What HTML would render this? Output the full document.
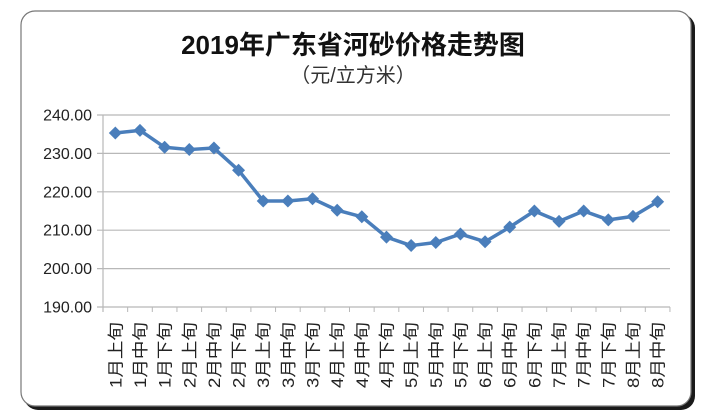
<!DOCTYPE html>
<html><head><meta charset="utf-8"><style>
html,body{margin:0;padding:0;background:#fff;}
svg{display:block;font-family:"Liberation Sans","Noto Sans CJK SC",sans-serif;}
</style></head><body>
<svg width="703" height="418" viewBox="0 0 703 418" xmlns="http://www.w3.org/2000/svg">
<rect x="24" y="14" width="671" height="396" rx="14" fill="#1a1a1a"/>
<rect x="21" y="11" width="670" height="395" rx="14" fill="#fff" stroke="#777" stroke-width="1.2"/>
<text x="353" y="54" text-anchor="middle" font-size="26" font-weight="bold" fill="#111">2019年广东省河砂价格走势图</text>
<text x="353" y="82" text-anchor="middle" font-size="20" fill="#333">（元/立方米）</text>
<g stroke="#b8b8b8" stroke-width="1.2">
<line x1="97" y1="115" x2="670" y2="115"/>
<line x1="97" y1="153.4" x2="670" y2="153.4"/>
<line x1="97" y1="191.8" x2="670" y2="191.8"/>
<line x1="97" y1="230.2" x2="670" y2="230.2"/>
<line x1="97" y1="268.6" x2="670" y2="268.6"/>
<line x1="97" y1="307" x2="670" y2="307"/>
<line x1="103" y1="115" x2="103" y2="312"/>
</g>
<g stroke="#b8b8b8" stroke-width="1" id="ticks"></g>
<g font-size="16" fill="#222" text-anchor="end">
<text x="92" y="120.5">240.00</text>
<text x="92" y="158.9">230.00</text>
<text x="92" y="197.3">220.00</text>
<text x="92" y="235.7">210.00</text>
<text x="92" y="274.1">200.00</text>
<text x="92" y="312.5">190.00</text>
</g>
<g id="labels" font-size="16.5" fill="#222"></g>
<polyline id="line" fill="none" stroke="#4a7ebb" stroke-width="3.5" stroke-linejoin="round"/>
<g id="marks" fill="#4a7ebb"></g>
<script>
var v=[235.3,236,231.6,231,231.4,225.6,217.6,217.6,218.2,215.2,213.5,208.2,206,206.8,209,207,210.8,215,212.3,215,212.7,213.6,217.4];
var lab=["1月上旬","1月中旬","1月下旬","2月上旬","2月中旬","2月下旬","3月上旬","3月中旬","3月下旬","4月上旬","4月中旬","4月下旬","5月上旬","5月中旬","5月下旬","6月上旬","6月中旬","6月下旬","7月上旬","7月中旬","7月下旬","8月上旬","8月中旬"];
var NS="http://www.w3.org/2000/svg",pts=[],w=24.65;
var T=document.getElementById("ticks"),L=document.getElementById("labels"),M=document.getElementById("marks");
for(var i=0;i<=23;i++){var l=document.createElementNS(NS,"line");var x=103+i*w;l.setAttribute("x1",x);l.setAttribute("x2",x);l.setAttribute("y1",307);l.setAttribute("y2",312);T.appendChild(l);}
for(var i=0;i<23;i++){var x=103+w/2+i*w,y=115+(240-v[i])*3.84;pts.push(x+","+y);
var p=document.createElementNS(NS,"polygon");p.setAttribute("points",x+","+(y-6.5)+" "+(x+6.5)+","+y+" "+x+","+(y+6.5)+" "+(x-6.5)+","+y);M.appendChild(p);
var t=document.createElementNS(NS,"text");t.setAttribute("transform","translate("+(x+6)+",388) rotate(-90)");t.setAttribute("textLength","66");t.setAttribute("lengthAdjust","spacingAndGlyphs");t.textContent=lab[i];L.appendChild(t);}
document.getElementById("line").setAttribute("points",pts.join(" "));
</script>
</svg>
</body></html>
